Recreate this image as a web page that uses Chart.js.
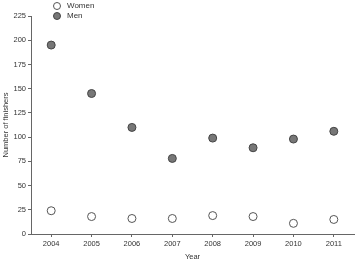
<!DOCTYPE html>
<html lang="en">
<head>
    <meta charset="UTF-8">
    <title>Finishers</title>
    <script src="https://cdn.jsdelivr.net/npm/chart.js"></script>
    <style>
        body { margin: 0; padding: 0; background: #fff; font-family: "Liberation Sans", Arial, sans-serif; }
        .wrap { position: relative; width: 359px; height: 261px; }
        .legend { position: absolute; left: 53px; top: 1px; font-size: 8px; color: #333; }
        .legend .item { height: 10px; line-height: 10px; display: flex; align-items: center; }
        .legend .dot { width: 8px; height: 8px; border-radius: 50%; margin-right: 6px; box-sizing: border-box; }
    </style>
</head>
<body>
    <div class="wrap">
        <canvas id="myChart" width="359" height="261"></canvas>
        <div class="legend">
            <div class="item"><span class="dot" style="background:#fff;border:1px solid #555"></span>Women</div>
            <div class="item"><span class="dot" style="background:#777;border:1px solid #444"></span>Men</div>
        </div>
    </div>
    <script>
        const years = [2004, 2005, 2006, 2007, 2008, 2009, 2010, 2011];
        const women = [24, 18, 16, 16, 19, 18, 11, 15];
        const men = [195, 145, 110, 78, 99, 89, 98, 106];
        const yTicks = [0, 25, 50, 75, 100, 125, 150, 175, 200, 225];

        const tickFont = { family: "'Liberation Sans', Arial, sans-serif", size: 7.5 };
        const axisColor = '#666';
        const textColor = '#333';

        new Chart(document.getElementById('myChart'), {
            type: 'scatter',
            data: {
                datasets: [
                    {
                        label: 'Women',
                        data: years.map((y, i) => ({ x: y, y: women[i] })),
                        backgroundColor: '#fff',
                        borderColor: '#555',
                        borderWidth: 1,
                        pointRadius: 4
                    },
                    {
                        label: 'Men',
                        data: years.map((y, i) => ({ x: y, y: men[i] })),
                        backgroundColor: '#777',
                        borderColor: '#444',
                        borderWidth: 1,
                        pointRadius: 4
                    }
                ]
            },
            options: {
                responsive: false,
                animation: false,
                layout: { padding: { top: 16, right: 2, left: 0, bottom: 0 } },
                plugins: { legend: { display: false }, tooltip: { enabled: false } },
                scales: {
                    x: {
                        type: 'linear',
                        min: 2003.5,
                        max: 2011.5,
                        afterBuildTicks: s => { s.ticks = years.map(v => ({ value: v })); },
                        afterFit: s => { s.height = 27; },
                        ticks: { font: tickFont, color: textColor, padding: 2, callback: v => String(v) },
                        grid: { drawOnChartArea: false, tickLength: 3, color: axisColor },
                        border: { color: axisColor },
                        title: { display: true, text: 'Year', font: tickFont, color: textColor, padding: { top: 2, bottom: 0 } }
                    },
                    y: {
                        min: 0,
                        max: 225,
                        afterBuildTicks: s => { s.ticks = yTicks.map(v => ({ value: v })); },
                        afterFit: s => { s.width = 31; },
                        ticks: { font: tickFont, color: textColor, padding: 2 },
                        grid: { drawOnChartArea: false, tickLength: 3, color: axisColor },
                        border: { color: axisColor },
                        title: { display: true, text: 'Number of finishers', font: tickFont, color: textColor, padding: { top: 1, bottom: 0 } }
                    }
                }
            }
        });
    </script>
</body>
</html>
